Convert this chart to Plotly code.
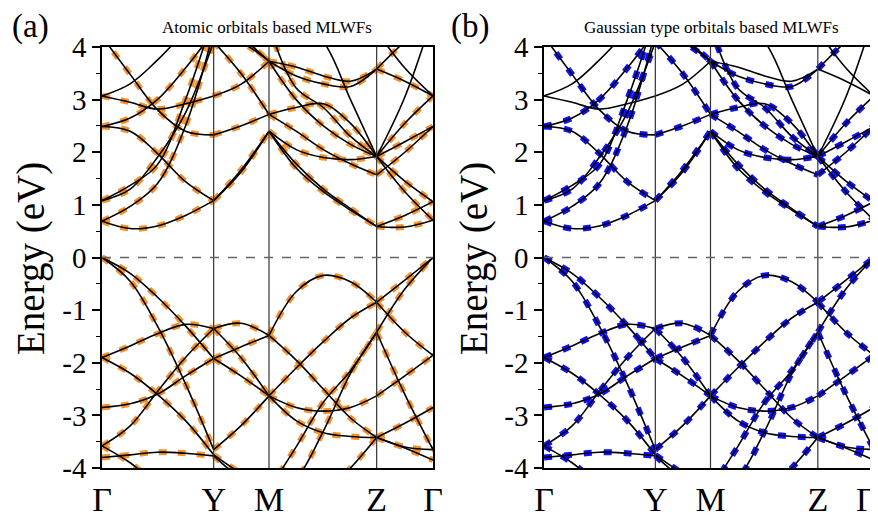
import plotly.graph_objects as go

# k-path nodes (Γ, ..., Y, ..., M, ..., Z, ..., Γ)
K_NODES = [0, 28, 55, 83, 111, 138, 166, 193, 220, 247, 273, 301, 329]
SEGMENTS = [(0, 4), (4, 6), (6, 10), (10, 12)]
HS_POS = [0, 111, 166, 273, 329]
HS_LABELS = ["Γ", "Y", "M", "Z", "Γ"]
Y_TICKS = [-4, -3, -2, -1, 0, 1, 2, 3, 4]
Y_TICK_TEXT = ["-4", "-3", "-2", "-1", "0", "1", "2", "3", "4"]
Y_MINOR = [-3.5, -2.5, -1.5, -0.5, 0.5, 1.5, 2.5, 3.5]

# valence bands (eV)
VB1 = [0.00, -0.30, -0.75, -1.30, -1.92, -1.70, -1.48, -0.65, -0.34, -0.46, -0.85, -1.42, -1.86]
VB2 = [0.00, -0.45, -1.30, -2.40, -3.65, -3.20, -2.63, -2.10, -1.60, -1.15, -0.85, -0.43, 0.00]
VB3 = [-1.90, -1.68, -1.45, -1.27, -1.35, -1.25, -1.48, -1.95, -2.50, -3.05, -3.42, -3.15, -2.85]
VB4 = [-1.90, -2.20, -2.60, -3.10, -3.75, -4.10, -4.40, -3.60, -2.75, -2.15, -1.42, -0.60, 0.00]
VB5 = [-2.85, -2.78, -2.60, -2.25, -1.92, -2.25, -2.63, -2.85, -2.92, -2.85, -2.63, -2.25, -1.86]
VB6 = [-3.58, -3.20, -2.55, -1.90, -1.35, -1.90, -2.63, -3.10, -3.33, -3.40, -3.42, -3.60, -3.65]
VB7 = [-3.80, -3.75, -3.70, -3.72, -3.77, -4.20, -4.50, -4.80, -4.50, -4.00, -3.42, -3.62, -3.85]
VB8 = [-3.58, -3.90, -4.30, -4.50, -4.60, -4.60, -4.50, -4.20, -3.30, -2.20, -1.42, -2.60, -3.65]

# conduction bands (eV)
CB1 = [0.69, 0.55, 0.60, 0.80, 1.08, 1.62, 2.40, 1.70, 1.25, 0.90, 0.59, 0.58, 0.71]
CB2 = [2.49, 2.40, 1.98, 1.44, 1.08, 1.66, 2.40, 2.05, 1.90, 1.86, 1.92, 1.45, 1.06]
CB3 = [0.69, 0.97, 1.40, 2.50, 4.30, 4.50, 4.40, 3.22, 2.85, 2.30, 1.92, 1.25, 0.71]
CB4 = [1.08, 1.37, 1.76, 3.00, 4.60, 4.20, 3.73, 3.45, 3.30, 3.25, 3.58, 4.10, 4.50]
CB5 = [1.08, 1.30, 1.90, 2.75, 4.10, 3.50, 2.72, 2.85, 2.92, 2.55, 1.92, 2.20, 2.49]
CB6 = [2.49, 2.65, 3.00, 3.60, 4.30, 4.10, 3.73, 3.00, 2.50, 2.15, 1.92, 2.55, 3.07]
CB7 = [4.20, 3.48, 2.81, 2.40, 2.33, 2.50, 2.72, 2.40, 2.05, 1.78, 1.57, 2.00, 2.49]
CB8 = [3.07, 2.95, 2.82, 2.92, 3.07, 3.29, 3.73, 3.62, 3.45, 3.35, 3.58, 3.35, 3.07]
CB9 = [3.07, 3.30, 3.75, 4.30, 4.80, 4.60, 4.40, 4.60, 4.50, 4.20, 4.30, 3.60, 3.07]
CB10 = [4.80, 4.60, 4.40, 4.40, 4.50, 4.40, 4.30, 4.50, 4.10, 3.00, 1.92, 3.05, 4.60]
CB11 = [None, None, None, None, None, None, 2.40, 1.78, 1.30, 0.93, 0.59, 0.80, 1.06]

DFT_BANDS = [VB1, VB2, VB3, VB4, VB5, VB6, VB7, VB8,
             CB1, CB2, CB3, CB4, CB5, CB6, CB7, CB8, CB9, CB10, CB11]
WANNIER_A = [VB1, VB2, VB3, VB4, VB5, VB6, VB7, VB8,
             CB1, CB2, CB3, CB4, CB5, CB6, CB7, CB8, CB11]
WANNIER_B = [VB1, VB2, VB3, VB4, VB5, VB6, VB7, VB8,
             CB1, CB2, CB3, CB4, CB5, CB6, CB7, CB11]

SERIF = "Liberation Serif"
PAGE_PAD = 8                     # default body margin of the html page
W, H = 878 - PAGE_PAD, 518 - PAGE_PAD


def px(x):
    return (x - PAGE_PAD) / W


def py(y):
    return 1 - (y - PAGE_PAD) / H


def seg_xy(E):
    xs, ys = [], []
    for a, b in SEGMENTS:
        vals = E[a:b + 1]
        if any(v is None for v in vals):
            continue
        xs += K_NODES[a:b + 1] + [None]
        ys += list(vals) + [None]
    return xs, ys


fig = go.Figure()

panels = [
    dict(xa="x", ya="y", color="rgb(242,145,45)", dash="8px,11px", wann=WANNIER_A),
    dict(xa="x2", ya="y2", color="rgb(15,15,250)", dash="8px,12px", wann=WANNIER_B),
]

for p in panels:
    for E in p["wann"]:
        xs, ys = seg_xy(E)
        fig.add_trace(go.Scatter(x=xs, y=ys, mode="lines", xaxis=p["xa"], yaxis=p["ya"],
                                 line=dict(color=p["color"], width=6, dash=p["dash"], shape="spline"),
                                 showlegend=False, hoverinfo="skip"))
    for E in DFT_BANDS:
        xs, ys = seg_xy(E)
        fig.add_trace(go.Scatter(x=xs, y=ys, mode="lines", xaxis=p["xa"], yaxis=p["ya"],
                                 line=dict(color="black", width=1.6, shape="spline"),
                                 showlegend=False, hoverinfo="skip"))

x_domains = [[px(102), px(433)], [px(544), px(874)]]
y_domain = [py(468), py(47)]

for i, (xk, yk) in enumerate([("xaxis", "yaxis"), ("xaxis2", "yaxis2")]):
    anchor_x = "y" if i == 0 else "y2"
    anchor_y = "x" if i == 0 else "x2"
    tv = HS_POS if i == 0 else HS_POS[:-1]
    tt = HS_LABELS if i == 0 else HS_LABELS[:-1]
    fig.layout[xk] = dict(domain=x_domains[i], anchor=anchor_x, range=[0, 329],
                          showline=True, mirror=True, linecolor="black", linewidth=1.5,
                          tickmode="array", tickvals=tv, ticktext=tt, ticks="",
                          tickfont=dict(family=SERIF, size=34, color="black"),
                          showgrid=False, zeroline=False, fixedrange=True, automargin=False)
    fig.layout[yk] = dict(domain=y_domain, anchor=anchor_y, range=[-4, 4],
                          showline=True, mirror=True, linecolor="black", linewidth=1.5,
                          tickmode="array", tickvals=Y_TICKS, ticktext=Y_TICK_TEXT,
                          ticks="outside", ticklen=8, tickwidth=1.5, tickcolor="black",
                          minor=dict(tickvals=Y_MINOR, ticks="outside", ticklen=4,
                                     tickwidth=1.2, tickcolor="black"),
                          tickfont=dict(family=SERIF, size=29, color="black"),
                          showgrid=False, zeroline=False, fixedrange=True, automargin=False)

shapes = []
for xr, yr in [("x", "y"), ("x2", "y2")]:
    for xv in HS_POS[1:-1]:
        shapes.append(dict(type="line", xref=xr, yref=yr, x0=xv, x1=xv, y0=-4, y1=4,
                           line=dict(color="#333", width=1.2), layer="above"))
    shapes.append(dict(type="line", xref=xr, yref=yr, x0=0, x1=329, y0=0, y1=0,
                       line=dict(color="#666", width=1.6, dash="dash"), layer="above"))

annotations = [
    dict(text="(a)", x=px(30), y=py(27), xref="paper", yref="paper", showarrow=False,
         font=dict(family=SERIF, size=33, color="black"), xanchor="center", yanchor="middle"),
    dict(text="(b)", x=px(470), y=py(27), xref="paper", yref="paper", showarrow=False,
         font=dict(family=SERIF, size=33, color="black"), xanchor="center", yanchor="middle"),
    dict(text="Atomic orbitals based MLWFs", x=px(267), y=py(28), xref="paper", yref="paper",
         showarrow=False, font=dict(family=SERIF, size=17, color="black"),
         xanchor="center", yanchor="middle"),
    dict(text="Gaussian type orbitals based MLWFs", x=px(711), y=py(28), xref="paper",
         yref="paper", showarrow=False, font=dict(family=SERIF, size=17, color="black"),
         xanchor="center", yanchor="middle"),
    dict(text="Energy (eV)", x=px(31), y=py(259), xref="paper", yref="paper",
         showarrow=False, textangle=-90, font=dict(family=SERIF, size=39, color="black"),
         xanchor="center", yanchor="middle"),
    dict(text="Energy (eV)", x=px(474), y=py(259), xref="paper", yref="paper",
         showarrow=False, textangle=-90, font=dict(family=SERIF, size=39, color="black"),
         xanchor="center", yanchor="middle"),
    # last Γ of panel (b), kept inside the right edge of the page
    dict(text=HS_LABELS[-1], x=1.0, xref="paper", y=py(499), yref="paper",
         showarrow=False, font=dict(family=SERIF, size=34, color="black"),
         xanchor="right", yanchor="middle"),
]

fig.update_layout(width=W, height=H, margin=dict(l=0, r=0, t=0, b=0),
                  paper_bgcolor="white", plot_bgcolor="white",
                  shapes=shapes, annotations=annotations, showlegend=False)

fig.write_html("out.html")
